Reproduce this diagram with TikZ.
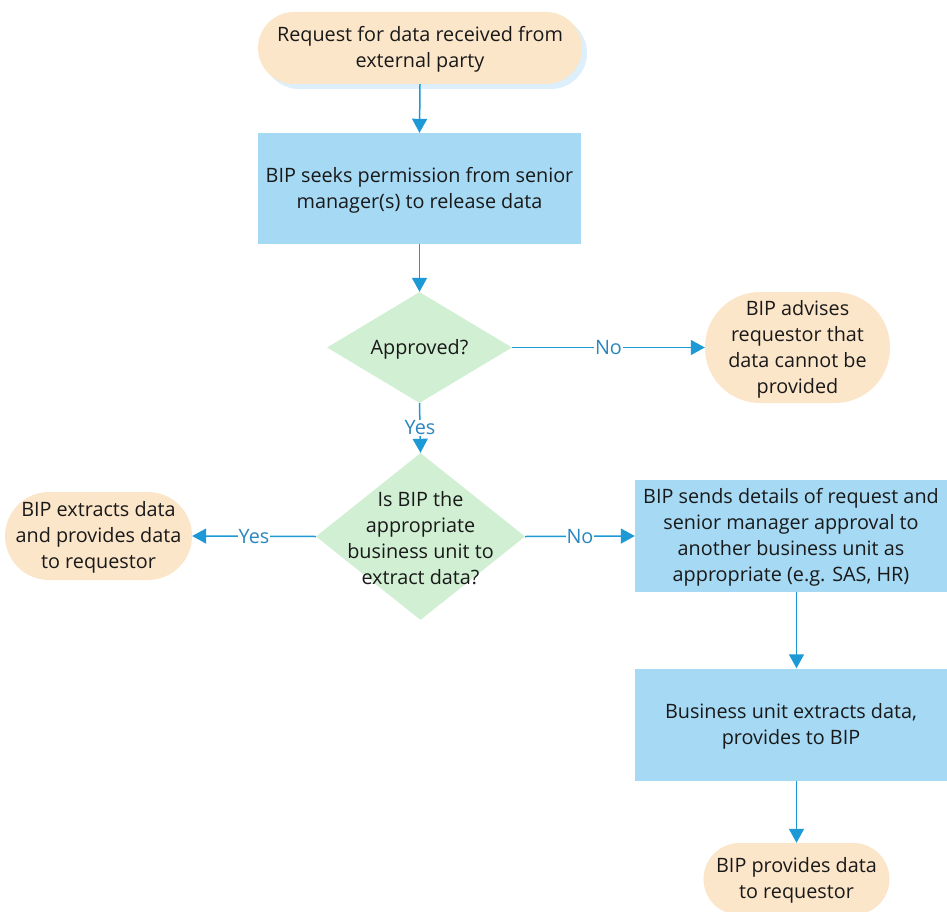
\documentclass[tikz,border=0pt]{standalone}
\usepackage{fontspec}
\setmainfont{Open Sans}
\usetikzlibrary{arrows.meta,shapes.geometric}
\definecolor{termfill}{HTML}{FCE6CA}
\definecolor{boxfill}{HTML}{A6D9F4}
\definecolor{decfill}{HTML}{D0EFD3}
\definecolor{arrowc}{HTML}{1D9AD6}
\definecolor{labelc}{HTML}{2A86BE}
\definecolor{shadowc}{HTML}{DDEFFA}
\begin{document}
\begin{tikzpicture}[x=1pt,y=-1pt,
  every node/.style={font=\fontsize{19.8}{26}\selectfont, text=black!90, align=center, inner sep=0pt},
  term/.style={fill=termfill, draw=none},
  procbox/.style={fill=boxfill, draw=none},
  decshape/.style={diamond, fill=decfill, draw=none},
  txt/.style={yshift=-1.5pt},
  conn/.style={draw=arrowc, line width=1.5pt, -{Triangle[width=15pt,length=14pt]}},
  lbl/.style={fill=white, inner sep=1pt, text=labelc}
]
\useasboundingbox (0,0) rectangle (947,912);

% top terminator with shadow
\fill[shadowc, rounded corners=36pt] (263,17) rectangle (587,89);
\node[term, rounded corners=36pt, minimum width=324pt, minimum height=72pt] (start) at (420,48) {};
\node[txt] (starttxt) at (420,48) {Request for data received from\\external party};

% box 1
\node[procbox, minimum width=323pt, minimum height=111pt] (perm) at (419.5,188.5) {};
\node[txt] (permtxt) at (419.5,188.5) {BIP seeks permission from senior\\manager(s) to release data};

% decision 1
\node[decshape, minimum width=185pt, minimum height=111pt] (appr) at (419.5,347.5) {};
\node[txt] (apprtxt) at (419.5,347.5) {Approved?};

% right terminator
\node[term, rounded corners=55pt, minimum width=185pt, minimum height=111pt] (advise) at (797.5,347.5) {};
\node[txt] (advisetxt) at (797.5,347.5) {BIP advises\\requestor that\\data cannot be\\provided};

% decision 2
\node[decshape, minimum width=209pt, minimum height=167pt] (isbip) at (420.5,536.5) {};
\node[txt] (isbiptxt) at (420.5,536.5) {Is BIP the\\appropriate\\business unit to\\extract data?};

% left terminator
\node[term, rounded corners=44pt, minimum width=187pt, minimum height=88pt] (extract) at (98.5,536) {};
\node[txt] (extracttxt) at (98.5,536) {BIP extracts data\\and provides data\\to requestor};

% box 2
\node[procbox, minimum width=312pt, minimum height=112pt] (sends) at (791,536) {};
\node[txt] (sendstxt) at (791,536) {BIP sends details of request and\\senior manager approval to\\another business unit as\\appropriate (e.g. SAS, HR)};

% box 3
\node[procbox, minimum width=312pt, minimum height=112pt] (unit) at (791,724.5) {};
\node[txt] (unittxt) at (791,724.5) {Business unit extracts data,\\provides to BIP};

% bottom terminator
\node[term, rounded corners=36pt, minimum width=186pt, minimum height=72pt] (final) at (796.5,879) {};
\node[txt] (finaltxt) at (796.5,879) {BIP provides data\\to requestor};

% connectors
\draw[conn] (start.south) -- (perm.north);
\draw[conn] (perm.south) -- (appr.north);
\draw[conn] (appr.east) -- node[lbl] (lno1) {No} (advise.west);
\draw[conn] (appr.south) -- node[lbl] (lyes1) {Yes} (isbip.north);
\draw[conn] (isbip.west) -- node[lbl] (lyes2) {Yes} (extract.east);
\draw[conn] (isbip.east) -- node[lbl] (lno2) {No} (sends.west);
\coordinate (s2) at (final.north |- sends.south);
\coordinate (s3) at (final.north |- unit.south);
\coordinate (u3) at (final.north |- unit.north);
\draw[conn] (s2) -- (u3);
\draw[conn] (s3) -- (final.north);
\end{tikzpicture}
\end{document}
